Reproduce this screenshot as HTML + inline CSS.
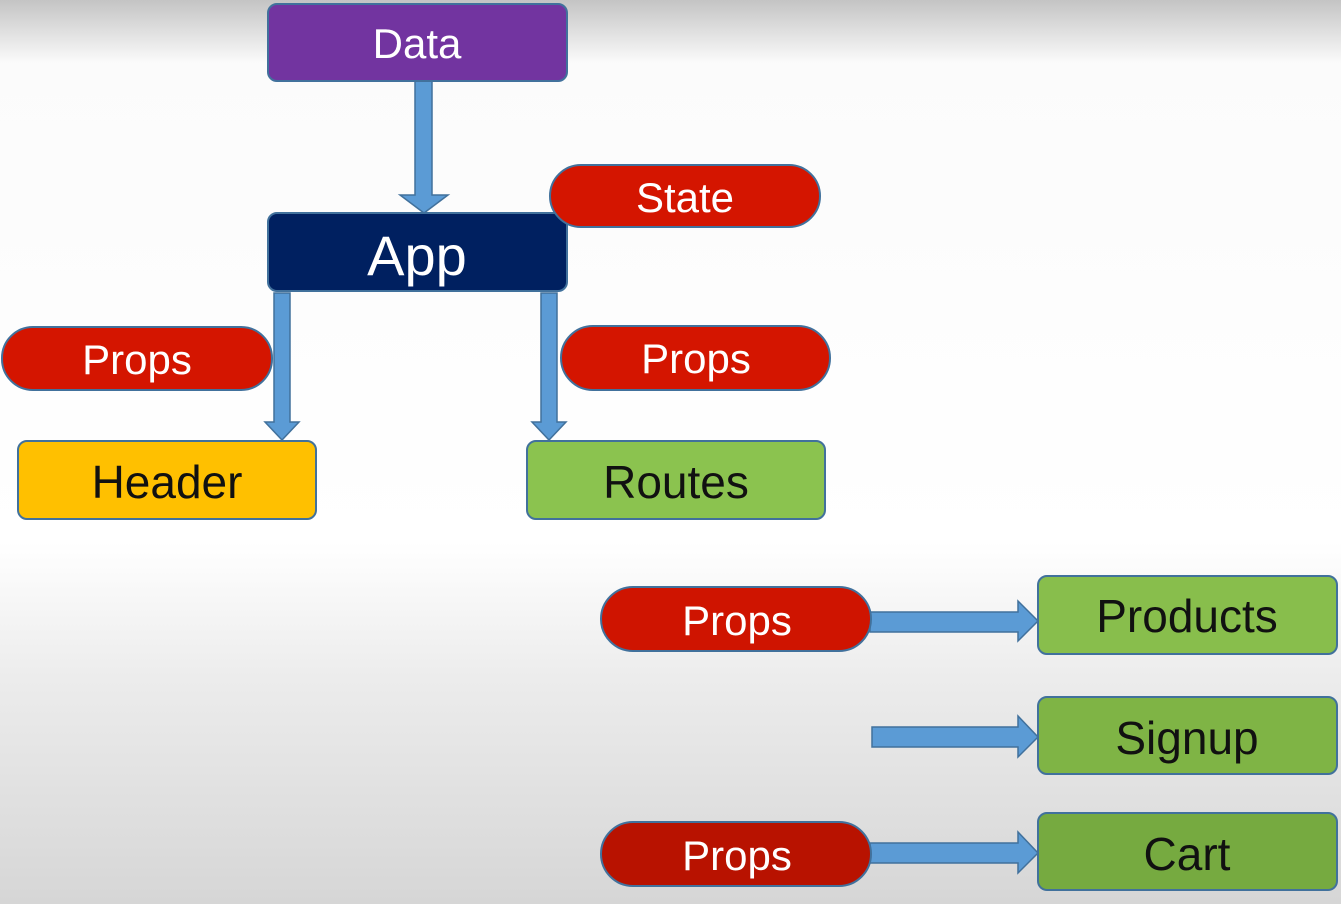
<!DOCTYPE html>
<html><head><style>html,body{margin:0;padding:0}body{width:1341px;height:904px;overflow:hidden}</style></head>
<body>
<svg width="1341" height="904" viewBox="0 0 1341 904" xmlns="http://www.w3.org/2000/svg" font-family="Liberation Sans, sans-serif">
<defs>
<linearGradient id="bg" x1="0" y1="0" x2="0" y2="1">
<stop offset="0" stop-color="#c4c4c4"/>
<stop offset="0.07" stop-color="#fbfbfb"/>
<stop offset="0.6" stop-color="#ffffff"/>
<stop offset="0.75" stop-color="#ececec"/>
<stop offset="1" stop-color="#d6d6d6"/>
</linearGradient>
</defs>
<rect width="1341" height="904" fill="url(#bg)"/>
<g fill="#5b9bd5" stroke="#41719c" stroke-width="1.5">
<polygon points="415,81 432,81 432,195 448,195 424,213 400,195 415,195"/>
<polygon points="274,293 290,293 290,422 299,422 282,440 265,422 274,422"/>
<polygon points="541,293 557,293 557,422 566,422 549,440 532,422 541,422"/>
<polygon points="870,612 1018,612 1018,601 1038,621 1018,641 1018,632 870,632"/>
<polygon points="872,727 1018,727 1018,716 1038,737 1018,757 1018,747 872,747"/>
<polygon points="870,843 1018,843 1018,832 1038,853 1018,873 1018,863 870,863"/>
</g>
<g stroke="#41719c" stroke-width="2">
<rect x="268" y="4" width="299" height="77" rx="9" fill="#7234a0"/>
<rect x="268" y="213" width="299" height="78" rx="9" fill="#002060"/>
<rect x="18" y="441" width="298" height="78" rx="9" fill="#ffc000"/>
<rect x="527" y="441" width="298" height="78" rx="9" fill="#8bc34f"/>
<rect x="1038" y="576" width="299" height="78" rx="9" fill="#88be4c"/>
<rect x="1038" y="697" width="299" height="77" rx="9" fill="#7fb445"/>
<rect x="1038" y="813" width="299" height="77" rx="9" fill="#76aa40"/>
</g>
<g stroke="#41719c" stroke-width="2">
<rect x="550" y="165" width="270" height="62" rx="31" fill="#d41500"/>
<rect x="2" y="327" width="270" height="63" rx="31" fill="#d41500"/>
<rect x="561" y="326" width="269" height="64" rx="32" fill="#d41500"/>
<rect x="601" y="587" width="270" height="64" rx="32" fill="#cf1400"/>
<rect x="601" y="822" width="270" height="64" rx="32" fill="#b81200"/>
</g>
<g text-anchor="middle" font-size="42" fill="#fff">
<text x="417" y="58">Data</text>
<text x="417" y="275" font-size="56">App</text>
<text x="685" y="212">State</text>
<text x="137" y="374">Props</text>
<text x="696" y="373">Props</text>
<text x="737" y="635">Props</text>
<text x="737" y="870">Props</text>
</g>
<g text-anchor="middle" font-size="46" fill="#111">
<text x="167" y="498">Header</text>
<text x="676" y="498">Routes</text>
<text x="1187" y="632">Products</text>
<text x="1187" y="754">Signup</text>
<text x="1187" y="870">Cart</text>
</g>
</svg>
</body></html>
